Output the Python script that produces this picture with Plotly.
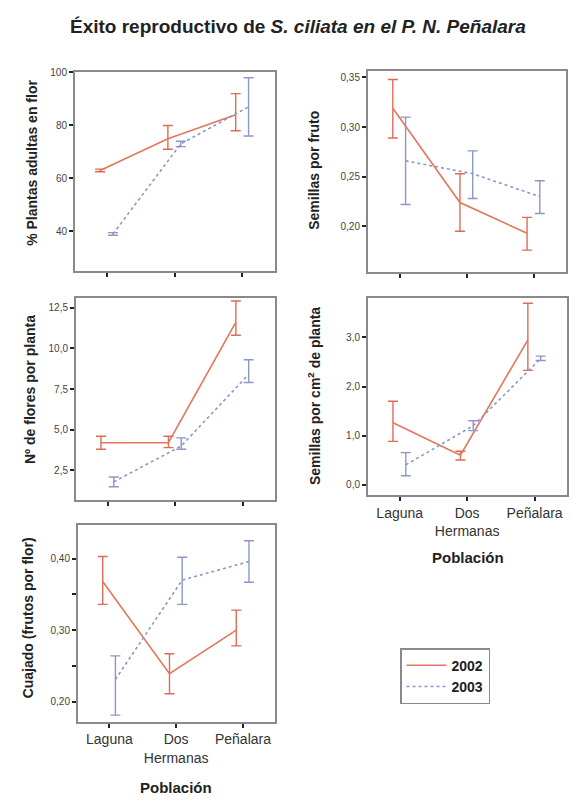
import plotly.graph_objects as go

W, H = 572, 800

categories = ["Laguna", "Dos Hermanas", "Peñalara"]
tick_text = ["Laguna", "Dos<br>Hermanas", "Peñalara"]
years = ["2002", "2003"]

# Panel 1: % Plantas adultas en flor
p1_2002_mean = [63, 75, 84]
p1_2002_lo = [62.5, 71, 78]
p1_2002_hi = [63.5, 80, 92]
p1_2003_mean = [39, 73, 87]
p1_2003_lo = [38.5, 72, 76]
p1_2003_hi = [39.5, 74, 98]

# Panel 2: Semillas por fruto
p2_2002_mean = [0.319, 0.224, 0.193]
p2_2002_lo = [0.289, 0.195, 0.176]
p2_2002_hi = [0.348, 0.253, 0.209]
p2_2003_mean = [0.266, 0.253, 0.230]
p2_2003_lo = [0.222, 0.228, 0.213]
p2_2003_hi = [0.310, 0.276, 0.246]

# Panel 3: Nº de flores por planta
p3_2002_mean = [4.2, 4.2, 11.6]
p3_2002_lo = [3.8, 3.9, 10.8]
p3_2002_hi = [4.6, 4.6, 12.9]
p3_2003_mean = [1.8, 4.0, 8.4]
p3_2003_lo = [1.5, 3.8, 7.9]
p3_2003_hi = [2.1, 4.5, 9.3]

# Panel 4: Semillas por cm2 de planta
p4_2002_mean = [1.26, 0.60, 2.95]
p4_2002_lo = [0.88, 0.50, 2.33]
p4_2002_hi = [1.70, 0.68, 3.70]
p4_2003_mean = [0.40, 1.20, 2.57]
p4_2003_lo = [0.18, 1.10, 2.53]
p4_2003_hi = [0.65, 1.30, 2.62]

# Panel 5: Cuajado (frutos por flor)
p5_2002_mean = [0.368, 0.239, 0.300]
p5_2002_lo = [0.336, 0.211, 0.278]
p5_2002_hi = [0.403, 0.267, 0.328]
p5_2003_mean = [0.231, 0.370, 0.396]
p5_2003_lo = [0.181, 0.336, 0.367]
p5_2003_hi = [0.264, 0.402, 0.425]

panels = [
    dict(d2002=(p1_2002_mean, p1_2002_lo, p1_2002_hi), d2003=(p1_2003_mean, p1_2003_lo, p1_2003_hi),
         box=(75, 275, 67, 267), yr=[25, 100], tv=[40, 60, 80, 100], fmt="d", title="% Plantas adultas en flor",
         tx=32, ty=158, labels=False, minor=None),
    dict(d2002=(p2_2002_mean, p2_2002_lo, p2_2002_hi), d2003=(p2_2003_mean, p2_2003_lo, p2_2003_hi),
         box=(368, 566, 65, 268), yr=[0.154, 0.357], tv=[0.20, 0.25, 0.30, 0.35], fmt=".2f", title="Semillas por fruto",
         tx=314, ty=166, labels=False, minor=None),
    dict(d2002=(p3_2002_mean, p3_2002_lo, p3_2002_hi), d2003=(p3_2003_mean, p3_2003_lo, p3_2003_hi),
         box=(76, 275, 294, 498), yr=[0.67, 13.1], tv=[2.5, 5.0, 7.5, 10.0, 12.5], fmt=".1f", title="Nº de flores por planta",
         tx=30, ty=387, labels=False, minor=None),
    dict(d2002=(p4_2002_mean, p4_2002_lo, p4_2002_hi), d2003=(p4_2003_mean, p4_2003_lo, p4_2003_hi),
         box=(368, 567, 294, 493), yr=[-0.22, 3.81], tv=[0.0, 1.0, 2.0, 3.0], fmt=".1f",
         title="Semillas por cm<sup>2</sup> de planta", tx=314, ty=393, labels=True, minor=None, pob=556),
    dict(d2002=(p5_2002_mean, p5_2002_lo, p5_2002_hi), d2003=(p5_2003_mean, p5_2003_lo, p5_2003_hi),
         box=(78, 275, 523, 721), yr=[0.172, 0.447], tv=[0.20, 0.30, 0.40], fmt=".2f",
         title="Cuajado (frutos por flor)", tx=28, ty=617, labels=True, minor=[0.25, 0.35], pob=787),
]

styles = {
    "2002": dict(color="#E4765C", dash="solid", ecolor="#E06A55", offset=-0.10),
    "2003": dict(color="#8C97C9", dash="dot", ecolor="#8C97C9", offset=0.09),
}

FONT = "Liberation Sans, Arial, sans-serif"
fig = go.Figure()
annotations = []

for i, p in enumerate(panels, start=1):
    xa = "x" if i == 1 else f"x{i}"
    ya = "y" if i == 1 else f"y{i}"
    for yr in years:
        mean, lo, hi = p["d" + yr]
        st = styles[yr]
        xs = [k + st["offset"] for k in range(len(categories))]
        fig.add_trace(go.Scatter(
            x=xs, y=mean, mode="lines", name="<b>" + yr + "</b>", legendgroup=yr, showlegend=(i == 1),
            line=dict(color=st["color"], width=1.6, dash=st["dash"]),
            error_y=dict(type="data", symmetric=False,
                         array=[h - m for h, m in zip(hi, mean)],
                         arrayminus=[m - l for m, l in zip(mean, lo)],
                         color=st["ecolor"], thickness=1.4, width=5),
            xaxis=xa, yaxis=ya, customdata=categories,
        ))
    x0, x1, y0, y1 = p["box"]
    xkey = "xaxis" if i == 1 else f"xaxis{i}"
    ykey = "yaxis" if i == 1 else f"yaxis{i}"
    xaxis = dict(domain=[x0 / W, x1 / W], anchor=ya, range=[-0.47, 2.48],
                 tickvals=[0, 1, 2], ticktext=tick_text, showticklabels=p["labels"], tickangle=0,
                 ticks="outside", ticklen=4, tickwidth=2, tickcolor="#222",
                 showline=True, mirror=True, linecolor="#8a8a8a", linewidth=2,
                 showgrid=False, zeroline=False,
                 tickfont=dict(family=FONT, size=14, color="#333"))
    yaxis = dict(domain=[1 - y1 / H, 1 - y0 / H], anchor=xa, range=p["yr"],
                 tickvals=p["tv"], tickformat=p["fmt"],
                 ticks="outside", ticklen=4, tickwidth=2, tickcolor="#222",
                 showline=True, mirror=True, linecolor="#8a8a8a", linewidth=2,
                 showgrid=False, zeroline=False,
                 tickfont=dict(family=FONT, size=10, color="#444"))
    if p["minor"]:
        yaxis["minor"] = dict(tickvals=p["minor"], ticks="outside", ticklen=4, tickwidth=2, tickcolor="#222", showgrid=False)
    fig.layout[xkey] = xaxis
    fig.layout[ykey] = yaxis
    annotations.append(dict(text="<b>" + p["title"] + "</b>", textangle=-90, x=p["tx"] / W, y=1 - p["ty"] / H,
                            xref="paper", yref="paper", xanchor="center", yanchor="middle", showarrow=False,
                            font=dict(family=FONT, size=14, color="#222")))
    if p["labels"]:
        annotations.append(dict(text="<b>Población</b>", x=((x0 + x1) / 2) / W, y=1 - p["pob"] / H,
                                xref="paper", yref="paper", xanchor="center", yanchor="middle", showarrow=False,
                                font=dict(family=FONT, size=15, color="#222")))

annotations.append(dict(text="<b>Éxito reproductivo de <i>S. ciliata en el P. N. Peñalara</i></b>",
                        x=298 / W, y=1 - 21 / H, xref="paper", yref="paper", xanchor="center", yanchor="middle",
                        showarrow=False, font=dict(family=FONT, size=19, color="#222")))

fig.update_layout(
    width=W, height=H, margin=dict(l=0, r=0, t=0, b=0),
    paper_bgcolor="white", plot_bgcolor="white",
    separators=", ",
    annotations=annotations,
    showlegend=True,
    legend=dict(x=400 / W, y=1 - 647 / H, xanchor="left", yanchor="top",
                bordercolor="#8a8a8a", borderwidth=1.5, bgcolor="white",
                font=dict(family=FONT, size=14, color="#222"), tracegroupgap=0,
                itemwidth=40),
    font=dict(family=FONT),
)

fig.write_html("out.html", config={"displayModeBar": False},
               post_script="document.body.style.margin='0';document.body.style.overflow='hidden';")
